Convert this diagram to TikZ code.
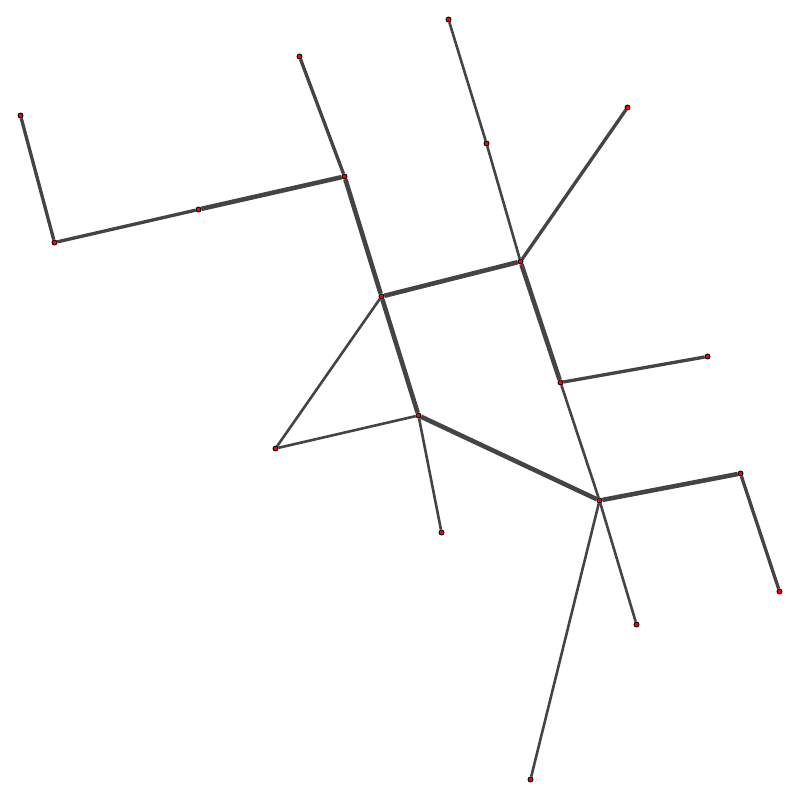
\documentclass[tikz,border=0pt]{standalone}
\usetikzlibrary{backgrounds}
\definecolor{EdgeGray}{RGB}{68,68,68}
\tikzset{
  vtx/.style    = {circle, draw=black, fill=red, line width=0.25pt,
                   inner sep=0pt, minimum size=0.05cm},
  thinedge/.style = {EdgeGray, line width=0.74pt},
  midedge/.style  = {EdgeGray, line width=0.95pt},
  fatedge/.style  = {EdgeGray, line width=1.3pt}
}
\begin{document}
\begin{tikzpicture}[x=0.01cm, y=-0.01cm]
\useasboundingbox (0,0) rectangle (800,800);
% vertices
\node[vtx] (a) at (20.5,115.5) {};
\node[vtx] (b) at (54.5,242.5) {};
\node[vtx] (c) at (198.5,209.5) {};
\node[vtx] (d) at (344.5,176.5) {};
\node[vtx] (e) at (299.5,56.5) {};
\node[vtx] (f) at (381.5,296.5) {};
\node[vtx] (g) at (448.5,19.5) {};
\node[vtx] (h) at (486.5,143.5) {};
\node[vtx] (i) at (627.5,107.5) {};
\node[vtx] (j) at (520.5,261.5) {};
\node[vtx] (k) at (560.5,382.5) {};
\node[vtx] (l) at (707.5,356.5) {};
\node[vtx] (m) at (418.5,415.5) {};
\node[vtx] (n) at (275.5,448.5) {};
\node[vtx] (o) at (441.5,532.5) {};
\node[vtx] (p) at (599.5,500.5) {};
\node[vtx] (q) at (740.5,473.5) {};
\node[vtx] (r) at (779.5,591.5) {};
\node[vtx] (s) at (636.5,624.5) {};
\node[vtx] (t) at (530.5,779.5) {};
% edges
\begin{scope}[on background layer]
\draw[midedge] (a) -- (b);
\draw[midedge] (b) -- (c);
\draw[fatedge] (c) -- (d);
\draw[midedge] (e) -- (d);
\draw[fatedge] (d) -- (f);
\draw[fatedge] (f) -- (j);
\draw[thinedge] (g) -- (h);
\draw[thinedge] (h) -- (j);
\draw[midedge] (i) -- (j);
\draw[fatedge] (j) -- (k);
\draw[midedge] (k) -- (l);
\draw[thinedge] (k) -- (p);
\draw[thinedge] (f) -- (n);
\draw[fatedge] (f) -- (m);
\draw[thinedge] (n) -- (m);
\draw[thinedge] (m) -- (o);
\draw[fatedge] (m) -- (p);
\draw[fatedge] (p) -- (q);
\draw[midedge] (q) -- (r);
\draw[thinedge] (p) -- (s);
\draw[thinedge] (p) -- (t);
\end{scope}
\end{tikzpicture}
\end{document}
